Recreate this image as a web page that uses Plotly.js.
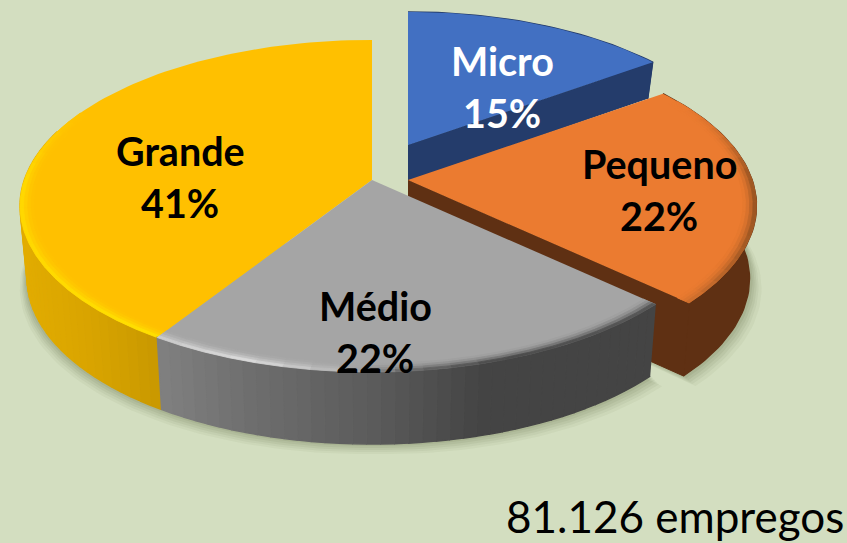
<!DOCTYPE html>
<html><head><meta charset="utf-8">
<script src="https://cdn.plot.ly/plotly-3.0.1.min.js"></script>
<style>html,body{margin:0;padding:0;background:#D3DEC0;overflow:hidden}</style>
</head><body><div id="chart" style="width:847px;height:543px"></div>
<script>
// DATA
const categories = ["Micro", "Pequeno", "Médio", "Grande"];
const shares = [15, 22, 22, 41];
const totalLabel = "81.126 empregos";

// STYLE
const topColors = ["#4270C2", "#EB7B30", "#A5A5A5", "#FFC000"];
const labelColors = ["#FFFFFF", "#000000", "#000000", "#000000"];
const bg = "#D3DEC0";
// Perspective parameters of the 3D disk
const A = 347.7, B = 162, P = 0.1566, BOTTOM_SHRINK = 0.98;
const geometry = [
  {x0: 408, y0: 145, s: 0.95, depth: 36},
  {x0: 408, y0: 180, s: 0.99, depth: 73},
  {x0: 372, y0: 180, s: 1.0, depth: 72},
  {x0: 372, y0: 180, s: 1.0, depth: 72}
];
const labelPos = [
  {x: 502, y: 60, dy: 52}, {x: 659, y: 163, dy: 52},
  {x: 375, y: 305, dy: 52}, {x: 180, y: 150, dy: 52}
];

function hex(c){return [1,3,5].map(i=>parseInt(c.substr(i,2),16));}
function mix(a,b,t){const A1=hex(a),B1=hex(b);return "#"+A1.map((v,i)=>Math.round(v+(B1[i]-v)*t).toString(16).padStart(2,"0")).join("");}
function ramp(stops,x){
  if(x<=stops[0][0])return stops[0][1];
  for(let i=1;i<stops.length;i++){ if(x<=stops[i][0]) return mix(stops[i-1][1],stops[i][1],(x-stops[i-1][0])/(stops[i][0]-stops[i-1][0])); }
  return stops[stops.length-1][1];
}
const wallRamps = [
  [[0,"#243C6B"]],
  [[0,"#5F3013"]],
  [[150,"#828282"],[260,"#6C6C6C"],[380,"#5A5A5A"],[480,"#444444"],[660,"#444444"]],
  [[20,"#E2AC00"],[90,"#D8A400"],[160,"#C89800"]]
];
const rimRamps = [
  null,
  [[660,"#EB7B30"],[710,"#C46A2C"],[760,"#9A5522"]],
  [[150,"#C8C8C8"],[250,"#DADADA"],[330,"#B8B8B8"],[400,"#6E6E6E"],[500,"#4C4C4C"],[660,"#585858"]],
  [[20,"#FFD800"],[160,"#FFE000"]]
];

function pt(g,deg,r){
  const t=deg*Math.PI/180,u=r*Math.sin(t),v=r*Math.cos(t),w=1+P*v;
  return [g.x0+g.s*A*u/w, g.y0-g.s*B*v/w];
}
function low(g,p){return [g.x0+(p[0]-g.x0)*BOTTOM_SHRINK,p[1]+g.depth];}
function arc(g,a,b,r){const out=[],n=Math.max(2,Math.ceil(Math.abs(b-a)/1.5));for(let i=0;i<=n;i++)out.push(pt(g,a+(b-a)*i/n,r));return out;}

const traces=[];
function poly(pts,color,opacity,lw){
  traces.push({type:"scatter",mode:"lines",x:pts.map(p=>p[0]),y:pts.map(p=>p[1]),fill:"toself",
    fillcolor:color,line:{color:color,width:lw===undefined?(opacity?0:1):lw},opacity:opacity||1,hoverinfo:"skip",showlegend:false});
}
const total=shares.reduce((a,b)=>a+b,0);
let cum=0;
const spans=shares.map(v=>{const a=cum/total*360;cum+=v;return [a,cum/total*360];});

// soft ground shadow
[[12,10,0.05],[9,8,0.06],[7,6,0.07],[5,4,0.08],[3,2,0.09]].forEach(sh=>{
  [1,2,3].forEach(i=>{
    const g=geometry[i],[a,b]=spans[i];
    const o=arc(g,a,b,1).filter(p=>p[1]>g.y0-40).map(p=>{const q=low(g,p);return [q[0]+sh[0]*(q[0]>g.x0?1:-0.6),q[1]+sh[1]];});
    poly(o.concat([[g.x0,g.y0+g.depth]]),"#4A5A30",sh[2]);
  });
});

// draw back-to-front
[0,1,3,2].forEach(i=>{
  const g=geometry[i],[a,b]=spans[i];
  // outer wall, strip by strip so the shade follows x; back strips are hidden and skipped
  const wallSteps=wallRamps[i].length>1?Math.ceil((b-a)/2):1;
  for(let k=0;k<wallSteps;k++){
    const a0=a+(b-a)*k/wallSteps,a1=a+(b-a)*(k+1)/wallSteps;
    if(wallSteps>1 && Math.cos((a0+a1)/2*Math.PI/180)>0.3) continue;
    const top=arc(g,a0,a1,1),bot=top.map(p=>low(g,p)).reverse();
    const mid=pt(g,(a0+a1)/2,1);
    poly(top.concat(bot),ramp(wallRamps[i],mid[0]),undefined,1.4);
  }
  // cut wall facing the viewer
  if(i===0||i===1){
    const rim=pt(g,b,1),ap=[g.x0,g.y0];
    poly([ap,rim,low(g,rim),low(g,ap)],wallRamps[i][0][1]);
  }
  // top face
  const face=arc(g,a,b,1);
  poly([[g.x0,g.y0]].concat(face),topColors[i],undefined,0);
  // bevel along the rim
  if(rimRamps[i]){
    const N=4,inner=0.962,steps=Math.ceil((b-a)/4);
    for(let n=0;n<N;n++){
      const r0=inner+(1-inner)*n/N,r1=inner+(1-inner)*(n+1)/N,f=(n+1)/N;
      for(let k=0;k<steps;k++){
        const a0=a+(b-a)*k/steps,a1=a+(b-a)*(k+1)/steps;
        const mid=pt(g,(a0+a1)/2,1);
        let fade=1;
        if(i===3) fade=Math.max(0,Math.min(1,(mid[1]-110)/70));
        if(i===1) fade=Math.max(0,Math.min(1,(mid[1]-100)/70));
        if(fade===0) continue;
        const col=mix(topColors[i],ramp(rimRamps[i],mid[0]),f*f*fade);
        poly(arc(g,a0,a1,r0).concat(arc(g,a0,a1,r1).reverse()),col,undefined,0.8);
      }
    }
  }
});

const annotations=[];
categories.forEach((c,i)=>{
  const l=labelPos[i],font={family:"Lato, Carlito, sans-serif",size:39.5,color:labelColors[i],weight:700};
  annotations.push({x:l.x,y:l.y,xref:"x",yref:"y",text:"<b>"+c+"</b>",showarrow:false,font});
  annotations.push({x:l.x,y:l.y+l.dy,xref:"x",yref:"y",text:"<b>"+shares[i]+"%</b>",showarrow:false,font});
});
annotations.push({x:675,y:516,xref:"x",yref:"y",text:totalLabel,showarrow:false,
  font:{family:"Lato, sans-serif",size:44,color:"#000000"}});

Plotly.newPlot("chart",traces,{
  width:847,height:543,margin:{l:0,r:0,t:0,b:0},paper_bgcolor:bg,plot_bgcolor:bg,showlegend:false,
  xaxis:{range:[0,847],visible:false,fixedrange:true},
  yaxis:{range:[543,0],visible:false,fixedrange:true},
  annotations
},{displayModeBar:false,staticPlot:true});
</script></body></html>
